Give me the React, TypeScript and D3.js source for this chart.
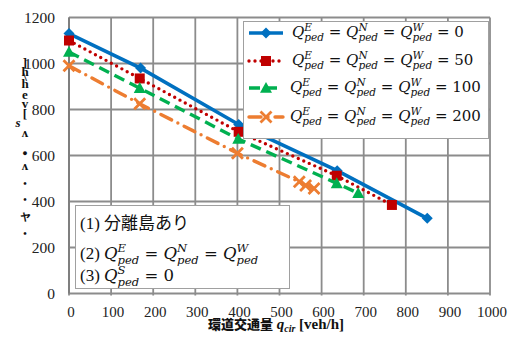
import React from "react";
import * as d3 from "d3";

// 環道交通量 q_cir [veh/h] vs 流入部容量
const xTicks = [0, 100, 200, 300, 400, 500, 600, 700, 800, 900, 1000];
const yTicks = [0, 200, 400, 600, 800, 1000, 1200];

const qcir0 = [0, 170, 403, 637, 851];
const cap0 = [1130, 980, 735, 534, 327];
const qcir50 = [0, 168, 403, 636, 767];
const cap50 = [1100, 935, 703, 512, 385];
const qcir100 = [0, 168, 402, 636, 687];
const cap100 = [1050, 893, 672, 479, 436];
const qcir200 = [0, 168, 400, 547, 562, 582];
const cap200 = [990, 825, 610, 486, 470, 457];

const seriesLabels = ["0", "50", "100", "200"];
const seriesColors = ["#0070C0", "#C00000", "#00B050", "#ED7D31"];
const seriesMarkers = ["diamond", "square", "triangle", "x"];

// broken vertical y-axis title, as it appears
const yTitleGlyphs = [
  { ch: "]", y: 67 }, { ch: "h", y: 76 }, { ch: "\\", y: 81 }, { ch: "h", y: 88 },
  { ch: "e", y: 99 }, { ch: "v", y: 108 }, { ch: "[", y: 118 },
  { ch: "s", y: 127 }, { ch: "ʌ", y: 137 }, { ch: "●", y: 156 }, { ch: "ʌ", y: 170 },
  { ch: "•", y: 187 }, { ch: "•", y: 203 }, { ch: "ャ", y: 220 }, { ch: "•", y: 237 },
];

const W = 511;
const H = 342;
const x = d3.scaleLinear().domain([0, 1000]).range([69, 490]);
const y = d3.scaleLinear().domain([0, 1200]).range([293.5, 17.5]);

const SERIF = "'Liberation Serif', 'Times New Roman', serif";
const MATH = "'DejaVu Serif', serif";
const CJK = "'Noto Sans CJK JP', sans-serif";

let ctx: CanvasRenderingContext2D | null = null;
function tw(s: string, font: string) {
  if (!ctx) ctx = document.createElement("canvas").getContext("2d");
  if (!ctx) return s.length * 6;
  ctx.font = font;
  return ctx.measureText(s).width;
}

// Q with stacked super/subscript
function Qterm({ sup, sub, size }: { sup: string; sub: string; size: number }) {
  const ss = size * 0.7;
  const wSup = tw(sup, `italic ${ss}px ${MATH}`);
  const wSub = tw(sub, `italic ${ss}px ${MATH}`);
  const up = -size * 0.4;
  const down = size * 0.28;
  return (
    <>
      <tspan fontSize={size} style={{ fontStyle: "italic" }}>Q</tspan>
      <tspan fontSize={ss} style={{ fontStyle: "italic" }} dy={up}>{sup}</tspan>
      <tspan fontSize={ss} style={{ fontStyle: "italic" }} dx={-wSup} dy={down - up}>{sub}</tspan>
      <tspan fontSize={size} dy={-down} dx={Math.max(0, wSup - wSub)}>{"\u200b"}</tspan>
    </>
  );
}

function Eq({ size }: { size: number }) {
  return <tspan fontSize={size}>{" = "}</tspan>;
}

function marker(kind: string, color: string, cx: number, cy: number, key: string | number) {
  if (kind === "diamond") {
    const r = 5.5;
    return <path key={key} d={`M${cx},${cy - r}L${cx + r},${cy}L${cx},${cy + r}L${cx - r},${cy}Z`} fill={color} />;
  }
  if (kind === "square") {
    const r = 5;
    return <rect key={key} x={cx - r} y={cy - r} width={2 * r} height={2 * r} fill={color} />;
  }
  if (kind === "triangle") {
    const r = 6;
    return <path key={key} d={`M${cx},${cy - r}L${cx + r},${cy + r * 0.8}L${cx - r},${cy + r * 0.8}Z`} fill={color} />;
  }
  const r = 5.5;
  return (
    <path key={key} d={`M${cx - r},${cy - r}L${cx + r},${cy + r}M${cx + r},${cy - r}L${cx - r},${cy + r}`}
      stroke={color} strokeWidth={2.8} fill="none" />
  );
}

const dashes = ["", "0 6", "11 6", "12 7 0 7"];
const caps = ["butt", "round", "butt", "round"] as const;

export default function App() {
  const series = [
    { xs: qcir0, ys: cap0 },
    { xs: qcir50, ys: cap50 },
    { xs: qcir100, ys: cap100 },
    { xs: qcir200, ys: cap200 },
  ];
  const line = d3.line<[number, number]>().x((d) => x(d[0])).y((d) => y(d[1]));
  const grid = "#8c8c8c";
  const legendRows = [33, 61, 88, 117];
  const bs = 16.5;

  return (
    <div style={{ position: "absolute", left: 0, top: 0 }}>
      <svg width={W} height={H} style={{ display: "block", background: "#fff" }}>
        {/* grid */}
        {xTicks.map((t) => (
          <line key={"gx" + t} x1={x(t)} x2={x(t)} y1={y(1200)} y2={y(0) + 2} stroke={grid} strokeWidth={1.8} />
        ))}
        {yTicks.map((t) => (
          <line key={"gy" + t} x1={x(0)} x2={x(1000)} y1={y(t)} y2={y(t)} stroke={grid} strokeWidth={1.8} />
        ))}
        <line x1={x(0)} x2={x(0)} y1={y(1200)} y2={y(0)} stroke="#7f7f7f" strokeWidth={2} />

        {/* tick labels */}
        {yTicks.map((t) => (
          <text key={"ty" + t} x={55} y={y(t) + 5} textAnchor="end" fontSize={15.5} style={{ fontFamily: SERIF }} fill="#222">
            {t}
          </text>
        ))}
        {xTicks.map((t) => (
          <text key={"tx" + t} x={x(t) + 2} y={317} textAnchor="middle" fontSize={15} style={{ fontFamily: SERIF }} fill="#222">
            {t}
          </text>
        ))}

        {/* series */}
        {series.map((s, i) => {
          const pts = s.xs.map((v, j) => [v, s.ys[j]] as [number, number]);
          return (
            <g key={"s" + i}>
              <path d={line(pts) || ""} fill="none" stroke={seriesColors[i]}
                strokeWidth={i === 0 ? 3.6 : 3.4} strokeDasharray={dashes[i] || undefined}
                strokeLinecap={caps[i]} />
              {pts.map((p, j) => marker(seriesMarkers[i], seriesColors[i], x(p[0]), y(p[1]), j))}
            </g>
          );
        })}

        {/* legend */}
        <rect x={243.5} y={21.5} width={245} height={117} fill="#fff" stroke="#a0a0a0" strokeWidth={1} />
        {seriesLabels.map((lab, i) => (
          <g key={"lg" + i}>
            <line x1={249} x2={283} y1={legendRows[i]} y2={legendRows[i]} stroke={seriesColors[i]}
              strokeWidth={3.4} strokeDasharray={dashes[i] || undefined} strokeLinecap={caps[i]} />
            {marker(seriesMarkers[i], seriesColors[i], 266, legendRows[i], "m")}
            <text x={i < 2 ? 292 : 290} y={legendRows[i] + 4} fontSize={15} style={{ fontFamily: MATH }} fill="#111">
              <Qterm sup="E" sub="ped" size={15} />
              <Eq size={15} />
              <Qterm sup="N" sub="ped" size={15} />
              <Eq size={15} />
              <Qterm sup="W" sub="ped" size={15} />
              <Eq size={15} />
              <tspan fontSize={15}>{lab}</tspan>
            </text>
          </g>
        ))}

        {/* condition box */}
        <rect x={75.5} y={205.5} width={214} height={83} fill="#fff" stroke="#a0a0a0" strokeWidth={1} />
        <text x={80} y={229} fill="#111" fontSize={17}>
          <tspan style={{ fontFamily: SERIF }}>(1) </tspan>
          <tspan style={{ fontFamily: CJK }}>分離島あり</tspan>
        </text>
        <text x={80} y={259} fill="#111" fontSize={bs} style={{ fontFamily: MATH }}>
          <tspan fontSize={17} style={{ fontFamily: SERIF }}>(2) </tspan>
          <Qterm sup="E" sub="ped" size={bs} />
          <Eq size={bs} />
          <Qterm sup="N" sub="ped" size={bs} />
          <Eq size={bs} />
          <Qterm sup="W" sub="ped" size={bs} />
        </text>
        <text x={80} y={281} fill="#111" fontSize={bs} style={{ fontFamily: MATH }}>
          <tspan fontSize={17} style={{ fontFamily: SERIF }}>(3) </tspan>
          <Qterm sup="S" sub="ped" size={bs} />
          <Eq size={bs} />
          <tspan fontSize={bs}>0</tspan>
        </text>

        {/* x title */}
        <text x={276} y={329} textAnchor="middle" fill="#111" fontSize={15} fontWeight="bold">
          <tspan fontSize={13} fontWeight={900} style={{ fontFamily: CJK }}>環道交通量</tspan>
          <tspan fontSize={15} style={{ fontFamily: SERIF, fontStyle: "italic" }}> q</tspan>
          <tspan fontSize={10} style={{ fontFamily: SERIF, fontStyle: "italic" }} dy={3}>cir</tspan>
          <tspan fontSize={15} style={{ fontFamily: SERIF }} dy={-3}> [veh/h]</tspan>
        </text>

        {/* y title (garbled vertical) */}
        {yTitleGlyphs.map((g, i) => (
          <text key={"yt" + i} x={g.ch === "s" ? 18 : 25} y={g.y} textAnchor="middle" fill="#111"
            fontSize={g.ch === "•" ? 10 : g.ch === "●" ? 9 : 13} fontWeight="bold"
            style={{ fontFamily: SERIF, fontStyle: g.ch === "s" ? "italic" : "normal" }}>
            {g.ch}
          </text>
        ))}
      </svg>
    </div>
  );
}
